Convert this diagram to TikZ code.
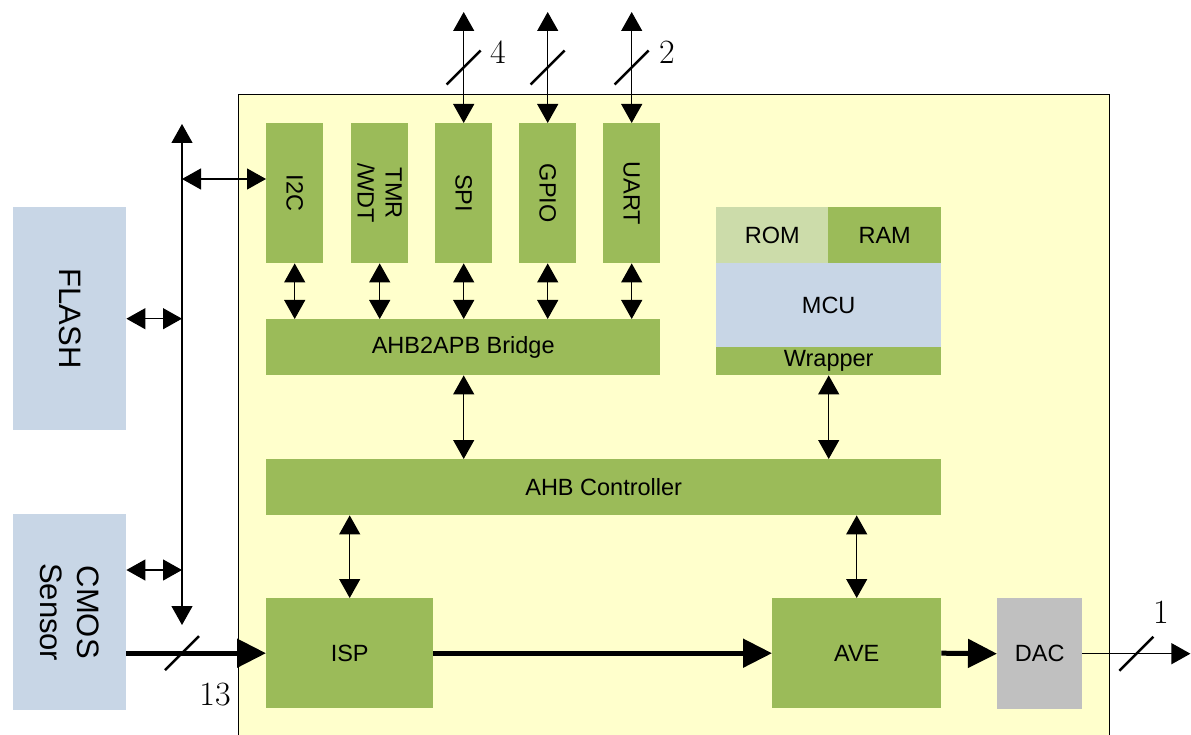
\documentclass[tikz,border=0pt]{standalone}
\usepackage{fontspec}
\setmainfont{Liberation Sans}
\newfontfamily\numfont{Latin Modern Roman}
\usepackage{tikz}
\usetikzlibrary{arrows.meta,calc}

\definecolor{socyellow}{HTML}{FFFFCC}
\definecolor{ipgreen}{HTML}{9BBB59}
\definecolor{romgreen}{HTML}{CCDCAA}
\definecolor{extblue}{HTML}{C8D6E6}
\definecolor{dacgray}{HTML}{C0C0C0}

\begin{document}
\begin{tikzpicture}[x=1pt,y=-1pt,
    >={Triangle[length=19pt,width=21pt]},
    blk/.style={fill=ipgreen, inner sep=0pt, anchor=north west,
      font=\fontsize{23.5}{28}\selectfont},
    lbl/.style={font=\fontsize{23.5}{28}\selectfont, align=center, inner sep=0pt},
    ext/.style={fill=extblue, inner sep=0pt, anchor=north west},
    extlbl/.style={font=\fontsize{31}{37}\selectfont, align=center, inner sep=0pt},
    wire/.style={line width=1.2pt},
    pix/.style={-{Triangle[length=29pt,width=28pt]}, line width=5pt},
    slash/.style={line width=2.5pt},
    num/.style={font=\numfont\fontsize{34}{34}\selectfont, inner sep=0pt}]
  \useasboundingbox (0,0) rectangle (1191,735);

  % chip
  \fill[socyellow] (238,95) rectangle (1109,735);
  \draw[line width=1pt] (238,735) -- (238,95) -- (1109,95) -- (1109,735);

  % APB peripherals
  \foreach \x/\n in {266/i2c,351/tmr,435/spi,519/gpio,603/uart}
    \node[blk, minimum width=57, minimum height=140] (\n) at (\x,123) {};
  \node[lbl, rotate=-90] (i2c-t) at (i2c) {I2C};
  \node[lbl, rotate=-90] (tmr-t) at (tmr) {TMR\\/WDT};
  \node[lbl, rotate=-90] (spi-t) at (spi) {SPI};
  \node[lbl, rotate=-90] (gpio-t) at (gpio) {GPIO};
  \node[lbl, rotate=-90] (uart-t) at (uart) {UART};

  \node[blk, minimum width=394, minimum height=56] (bridge) at (266,319) {AHB2APB Bridge};

  % MCU
  \node[blk, fill=romgreen, minimum width=112, minimum height=56] (rom) at (716,207) {ROM};
  \node[blk, minimum width=113, minimum height=56] (ram) at (828,207) {RAM};
  \node[blk, fill=extblue, minimum width=225, minimum height=84] (mcu) at (716,263) {MCU};
  \node[blk, minimum width=225, minimum height=28] (wrap) at (716,347) {Wrapper};

  \node[blk, minimum width=675, minimum height=56] (ahb) at (266,459) {AHB Controller};

  \node[blk, minimum width=167, minimum height=110] (isp) at (266,598) {ISP};
  \node[blk, minimum width=169, minimum height=110] (ave) at (772,598) {AVE};
  \node[blk, fill=dacgray, minimum width=85, minimum height=111] (dac) at (997,598) {DAC};

  % off-chip
  \node[ext, minimum width=113, minimum height=223] (flash) at (13,207) {};
  \node[extlbl, rotate=-90] (flash-t) at (flash) {FLASH};
  \node[ext, minimum width=113, minimum height=196] (cmos) at (13,514) {};
  \node[extlbl, rotate=-90] (cmos-t) at (cmos) {CMOS\\Sensor};

  % pins
  \foreach \n in {spi,gpio,uart} {
    \path (\n.north) ++(0,-111) coordinate (\n-io);
    \draw[wire,<->] (\n-io) -- (\n.north);
    \draw[slash] ($(\n-io)!0.5!(\n.north)$) +(-17,17) -- +(17,-17);
  }
  \node[num] (w-spi) at (498,52) {4};
  \node[num] (w-uart) at (667,52) {2};

  \foreach \n in {i2c,tmr,spi,gpio,uart}
    \draw[wire,<->] (\n.south) -- (\n.south |- bridge.north);

  % system bus
  \draw[wire,<->] (spi.south |- bridge.south) -- (spi.south |- ahb.north);
  \draw[wire,<->] (wrap.south) -- (wrap.south |- ahb.north);
  \draw[wire,<->] (isp.north) -- (isp.north |- ahb.south);
  \draw[wire,<->] (ave.north) -- (ave.north |- ahb.south);

  % external bus
  \coordinate (bus-top) at (182,124);
  \coordinate (bus-bot) at (182,625);
  \draw[wire,<->] (bus-top) -- (bus-bot);
  \coordinate (bus-i2c) at (182,179);
  \draw[wire,<->] (bus-i2c) -- (bus-i2c -| i2c.west);
  \draw[wire,<->] (flash.east) -- (flash.east -| bus-top);
  \coordinate (bus-cmos) at (182,570);
  \draw[wire,<->] (bus-cmos -| cmos.east) -- (bus-cmos);

  % video path
  \draw[pix] (isp.west -| cmos.east) -- (isp.west);
  \draw[slash] (isp.west -| bus-top) +(-17,17) -- +(17,-17);
  \node[num] (w-cmos) at (215,695) {13};
  \draw[pix] (isp.east) -- (ave.west);
  \draw[pix] (ave.east) -- (dac.west);
  \path (dac.east) ++(108,0) coordinate (vout);
  \draw[wire,->] (dac.east) -- (vout);
  \draw[slash] ($(dac.east)!0.5!(vout)$) +(-17,17) -- +(17,-17);
  \node[num] (w-dac) at (1161,612) {1};
\end{tikzpicture}
\end{document}
